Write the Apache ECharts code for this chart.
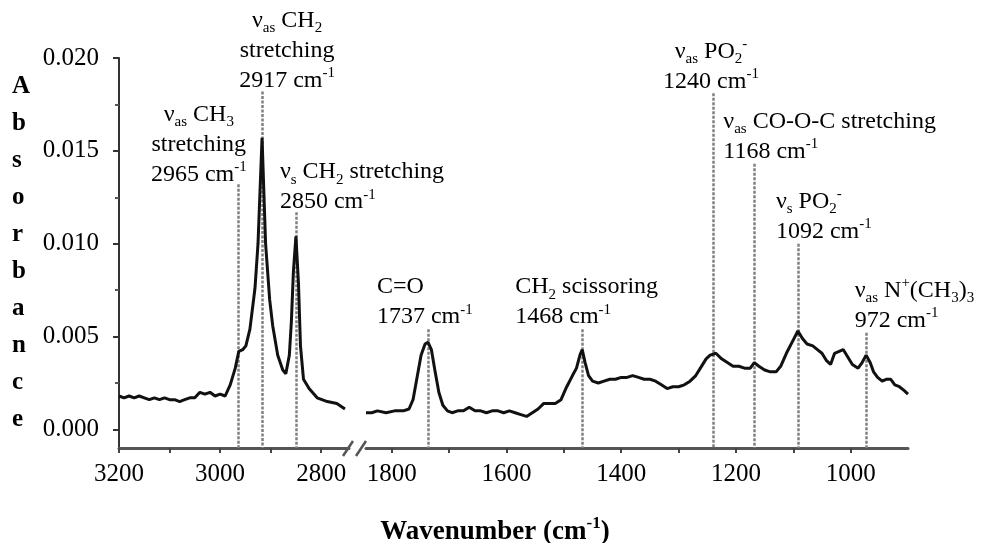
<!DOCTYPE html>
<html>
<head>
<meta charset="utf-8">
<script src="https://cdn.jsdelivr.net/npm/echarts@6.0.0/dist/echarts.min.js"></script>
<style>
html,body{margin:0;padding:0;background:#fff;}
#chart{width:990px;height:543px;}
</style>
</head>
<body>
<div id="chart"></div>
<script>
// ---------- data ----------
const leftWavenumbers = [3200,3190,3180,3170,3160,3150,3140,3130,3120,3110,3100,3090,3080,3070,3060,3050,3040,3030,3020,3010,3000,2990,2980,2970,2963,2955,2949,2941,2931,2925,2917,2910,2902,2896,2886,2876,2870,2863,2859,2855,2850,2845,2841,2835,2824,2808,2788,2769,2753];
const leftAbsorbance = [0.0018,0.0017,0.0018,0.0017,0.0018,0.0017,0.0016,0.0017,0.0016,0.0017,0.0016,0.0016,0.0015,0.0016,0.0017,0.0017,0.0020,0.0019,0.0020,0.0018,0.0019,0.0018,0.0024,0.0033,0.0042,0.0043,0.0045,0.0054,0.0076,0.0100,0.0157,0.0100,0.0070,0.0056,0.0040,0.0032,0.0030,0.0040,0.0058,0.0085,0.0104,0.0079,0.0045,0.0027,0.0022,0.0017,0.0015,0.0014,0.0011];

const rightWavenumbers = [1845,1835,1825,1810,1795,1780,1770,1763,1756,1749,1742,1737,1731,1725,1718,1711,1703,1695,1685,1675,1665,1655,1645,1635,1625,1615,1605,1595,1585,1575,1565,1555,1545,1535,1525,1515,1505,1495,1485,1478,1472,1468,1463,1457,1450,1440,1430,1420,1410,1400,1390,1380,1370,1360,1350,1340,1330,1320,1310,1300,1290,1280,1270,1262,1252,1245,1235,1225,1215,1205,1195,1185,1175,1168,1160,1150,1140,1130,1122,1112,1102,1092,1084,1076,1066,1058,1050,1042,1035,1028,1020,1013,1005,997,987,980,973,966,960,953,945,938,930,923,915,907,900];
const rightAbsorbance = [0.0009,0.0009,0.0010,0.0009,0.0010,0.0010,0.0011,0.0016,0.0028,0.0040,0.0046,0.0047,0.0043,0.0032,0.0020,0.0013,0.0010,0.0009,0.0010,0.0010,0.0012,0.0010,0.0010,0.0009,0.0010,0.0010,0.0009,0.0010,0.0009,0.0008,0.0007,0.0009,0.0011,0.0014,0.0014,0.0014,0.0016,0.0023,0.0029,0.0033,0.0040,0.0043,0.0036,0.0029,0.0026,0.0025,0.0026,0.0027,0.0027,0.0028,0.0028,0.0029,0.0028,0.0027,0.0027,0.0026,0.0024,0.0022,0.0023,0.0023,0.0024,0.0026,0.0029,0.0033,0.0038,0.0040,0.0041,0.0038,0.0036,0.0034,0.0034,0.0033,0.0033,0.0036,0.0034,0.0032,0.0031,0.0031,0.0034,0.0041,0.0047,0.0053,0.0049,0.0046,0.0045,0.0043,0.0041,0.0037,0.0035,0.0041,0.0042,0.0043,0.0039,0.0035,0.0033,0.0036,0.0040,0.0036,0.0031,0.0028,0.0026,0.0027,0.0027,0.0024,0.0023,0.0021,0.0019];

// peak markers: wavenumber and absorbance where the dotted marker line ends
const leftPeaks = [2965, 2917, 2850];
const leftPeakTops = [0.0132, 0.0182, 0.0117];
const leftPeakLabels = [
  '{t|ν}{sub|as}{t| CH}{sub|3}\n{t|stretching}\n{t|2965 cm}{sup|-1}',
  '{t|ν}{sub|as}{t| CH}{sub|2}\n{t|stretching}\n{t|2917 cm}{sup|-1}',
  '{t|ν}{sub|s}{t| CH}{sub|2}{t| stretching}\n{t|2850 cm}{sup|-1}'
];
const rightPeaks = [1737, 1468, 1240, 1168, 1092, 972];
const rightPeakTops = [0.0054, 0.0054, 0.0181, 0.0143, 0.0100, 0.0052];
const rightPeakLabels = [
  '{t|C=O}\n{t|1737 cm}{sup|-1}',
  '{t|CH}{sub|2}{t| scissoring}\n{t|1468 cm}{sup|-1}',
  '{t|ν}{sub|as}{t| PO}{sub|2}{sup|-}\n{t|1240 cm}{sup|-1}',
  '{t|ν}{sub|as}{t| CO-O-C stretching}\n{t|1168 cm}{sup|-1}',
  '{t|ν}{sub|s}{t| PO}{sub|2}{sup|-}\n{t|1092 cm}{sup|-1}',
  '{t|ν}{sub|as}{t| N}{sup|+}{t|(CH}{sub|3}{t|)}{sub|3}\n{t|972 cm}{sup|-1}'
];

const yTicks = [0, 0.005, 0.010, 0.015, 0.020];
const yMinorTicks = [0.0025, 0.0075, 0.0125, 0.0175];
const leftXTicks = [3200, 3100, 3000, 2900, 2800];
const leftXLabels = [3200, 3000, 2800];
const rightXTicks = [1800, 1700, 1600, 1500, 1400, 1300, 1200, 1100, 1000];
const rightXLabels = [1800, 1600, 1400, 1200, 1000];

// ---------- layout / style (kept separate from data) ----------
const leftLabelAlign = ['center', 'center', 'left'];
const leftLabelOffset = [[-39, 5], [25, 4], [-16, 5]];
const rightLabelAlign = ['left', 'left', 'center', 'left', 'left', 'left'];
const rightLabelOffset = [[-51, 3], [-67, 3], [-2, 3], [-31, 3], [-22, 3], [-12, 3]];

const SERIF = '"Liberation Serif","DejaVu Serif",serif';
const INK = '#000';
const Y_MIN = -0.001, Y_MAX = 0.020;

const rich = {
  t:   {fontFamily: SERIF, fontSize: 24, lineHeight: 30, color: INK},
  sub: {fontFamily: SERIF, fontSize: 15, lineHeight: 15, color: INK, verticalAlign: 'bottom'},
  sup: {fontFamily: SERIF, fontSize: 15, lineHeight: 18, color: INK, verticalAlign: 'top'}
};

function pairs(xs, ys) { return xs.map((x, i) => [x, ys[i]]); }
function markLines(peaks, tops) {
  return peaks.map((p, i) => [{coord: [p, tops[i]]}, {coord: [p, Y_MIN]}]);
}
function labelItems(peaks, tops, texts, aligns, offsets) {
  return peaks.map((p, i) => ({
    value: [p, tops[i]],
    label: {formatter: texts[i], align: aligns[i], offset: offsets[i]}
  }));
}

const markLineStyle = {color: '#808080', width: 2.5, type: [3, 1.5], opacity: 1};
const spectrumStyle = {color: '#111', width: 3};

const axisLineX = {show: true, onZero: false, lineStyle: {color: '#555', width: 3}};
const tickLabelStyle = {fontFamily: SERIF, fontSize: 25, color: INK};

const chart = echarts.init(document.getElementById('chart'), null, {renderer: 'canvas'});
chart.setOption({
  backgroundColor: '#fff',
  animation: false,
  title: {
    text: '{b|Wavenumber (cm}{s|-1}{b|)}',
    left: 'center', top: 515, padding: 0,
    textStyle: {
      rich: {
        b: {fontFamily: SERIF, fontSize: 27, fontWeight: 'bold', lineHeight: 34, color: INK},
        s: {fontFamily: SERIF, fontSize: 17, fontWeight: 'bold', lineHeight: 22, color: INK, verticalAlign: 'top'}
      }
    }
  },
  grid: [
    {left: 119, top: 58, width: 230, height: 390},
    {left: 366, top: 58, width: 542, height: 390}
  ],
  xAxis: [
    {
      gridIndex: 0, type: 'value', min: 2745, max: 3200, inverse: true, position: 'bottom',
      axisLine: axisLineX,
      axisTick: {show: true, customValues: leftXTicks, length: 5, lineStyle: {color: '#444', width: 2}},
      axisLabel: {customValues: leftXLabels, margin: 14, formatter: v => String(v), ...tickLabelStyle},
      splitLine: {show: false}
    },
    {
      gridIndex: 1, type: 'value', min: 900, max: 1845, inverse: true, position: 'bottom',
      axisLine: axisLineX,
      axisTick: {show: true, customValues: rightXTicks, length: 5, lineStyle: {color: '#444', width: 2}},
      axisLabel: {customValues: rightXLabels, margin: 14, formatter: v => String(v), ...tickLabelStyle},
      splitLine: {show: false}
    }
  ],
  yAxis: [
    {
      gridIndex: 0, type: 'value', min: Y_MIN, max: Y_MAX, position: 'left',
      name: 'A\nb\ns\no\nr\nb\na\nn\nc\ne',
      nameLocation: 'middle', nameRotate: 0, nameGap: 107,
      nameTextStyle: {fontFamily: SERIF, fontSize: 25, fontWeight: 'bold', color: INK,
        lineHeight: 37, align: 'left', verticalAlign: 'middle', padding: [0, 0, 10, 0]},
      axisLine: {show: true, onZero: false, lineStyle: {color: '#333', width: 2}},
      axisTick: {show: true, customValues: yTicks, length: 6, lineStyle: {color: '#333', width: 2}},
      axisLabel: {customValues: yTicks, margin: 20, formatter: v => v.toFixed(3), ...tickLabelStyle},
      splitLine: {show: false}
    },
    {
      gridIndex: 0, type: 'value', min: Y_MIN, max: Y_MAX, position: 'left', offset: 0,
      axisLine: {show: false, onZero: false},
      axisTick: {show: true, customValues: yMinorTicks, length: 4, lineStyle: {color: '#555', width: 2}},
      axisLabel: {show: false},
      splitLine: {show: false}
    },
    {
      gridIndex: 1, type: 'value', min: Y_MIN, max: Y_MAX, show: false
    }
  ],
  graphic: [
    {type: 'line', shape: {x1: 343, y1: 456, x2: 353, y2: 441}, style: {stroke: '#555', lineWidth: 2.5}, z: 10},
    {type: 'line', shape: {x1: 356, y1: 456, x2: 366, y2: 441}, style: {stroke: '#555', lineWidth: 2.5}, z: 10}
  ],
  series: [
    {
      type: 'line', xAxisIndex: 0, yAxisIndex: 0,
      data: pairs(leftWavenumbers, leftAbsorbance),
      showSymbol: false, silent: true, lineStyle: spectrumStyle, z: 3,
      markLine: {silent: true, symbol: ['none', 'none'], label: {show: false},
        lineStyle: markLineStyle, data: markLines(leftPeaks, leftPeakTops), z: 2}
    },
    {
      type: 'line', xAxisIndex: 1, yAxisIndex: 2,
      data: pairs(rightWavenumbers, rightAbsorbance),
      showSymbol: false, silent: true, lineStyle: spectrumStyle, z: 3,
      markLine: {silent: true, symbol: ['none', 'none'], label: {show: false},
        lineStyle: markLineStyle, data: markLines(rightPeaks, rightPeakTops), z: 2}
    },
    {
      type: 'scatter', xAxisIndex: 0, yAxisIndex: 0, symbolSize: 0, silent: true,
      itemStyle: {opacity: 1},
      label: {show: true, position: 'top', distance: 0, color: INK, opacity: 1, rich: rich},
      data: labelItems(leftPeaks, leftPeakTops, leftPeakLabels, leftLabelAlign, leftLabelOffset)
    },
    {
      type: 'scatter', xAxisIndex: 1, yAxisIndex: 2, symbolSize: 0, silent: true,
      itemStyle: {opacity: 1},
      label: {show: true, position: 'top', distance: 0, color: INK, opacity: 1, rich: rich},
      data: labelItems(rightPeaks, rightPeakTops, rightPeakLabels, rightLabelAlign, rightLabelOffset)
    }
  ]
});
</script>
</body>
</html>
